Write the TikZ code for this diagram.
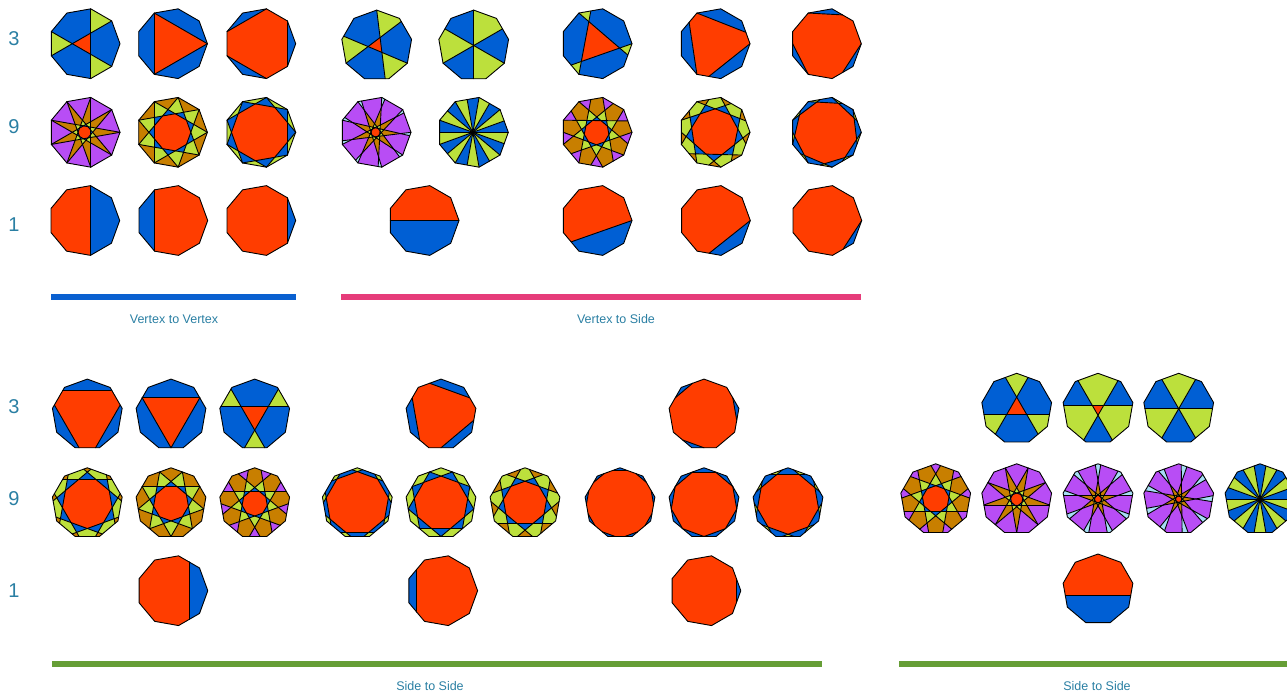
\documentclass[tikz,border=0pt]{standalone}
\usepackage{fontspec}
\setmainfont{Liberation Sans}
\definecolor{ngc0}{HTML}{FF3D00}
\definecolor{ngc1}{HTML}{005FD4}
\definecolor{ngc2}{HTML}{BCE03C}
\definecolor{ngc3}{HTML}{C87F00}
\definecolor{ngc4}{HTML}{B84DF5}
\definecolor{ngc5}{HTML}{A6DDF6}
\definecolor{ngd1}{HTML}{005FD4}
\definecolor{ngd2}{HTML}{BCE03C}
\definecolor{ngd3}{HTML}{FF3D00}
\definecolor{barblue}{HTML}{0A60D0}
\definecolor{barpink}{HTML}{E63C7A}
\definecolor{bargreen}{HTML}{669E36}
\definecolor{labtxt}{HTML}{2A7FA3}
\tikzset{
  ngline/.style={draw=black,line width=0.9pt,line join=round,line cap=round},
  numlab/.style={text=labtxt,font=\fontsize{20}{22}\selectfont,inner sep=0pt},
  grouplab/.style={text=labtxt,font=\fontsize{12.5}{14}\selectfont,inner sep=0pt}
}
\def\ngR{35.4}
\def\ngEps{0.0005}
\def\ngPrefix{ngc}
% boundary point at parameter t (in sides from base vertex)
\def\ngBP#1{%
  \edef\ngKK{\fpeval{floor(#1)}}%
  \edef\ngFF{\fpeval{(#1)-floor(#1)}}%
  \edef\ngBX{\fpeval{\ngR*((1-\ngFF)*cosd(\ngBase+40*\ngKK)+\ngFF*cosd(\ngBase+40*(\ngKK+1)))}}%
  \edef\ngBY{\fpeval{\ngR*((1-\ngFF)*sind(\ngBase+40*\ngKK)+\ngFF*sind(\ngBase+40*(\ngKK+1)))}}%
}
% prepare chord i
\def\ngPrep#1{%
  \ifnum#1<\ngN\relax
    \ngBP{\ngTa+\ngStep*#1}%
    \let\ngXa\ngBX \let\ngYa\ngBY
    \ngBP{\ngTb+\ngStep*#1}%
    \let\ngXb\ngBX \let\ngYb\ngBY
    \edef\ngLen{\fpeval{sqrt((\ngXb-\ngXa)^2+(\ngYb-\ngYa)^2)}}%
    \expandafter\edef\csname ngA#1\endcsname{\fpeval{-(\ngYb-\ngYa)/\ngLen}}%
    \expandafter\edef\csname ngB#1\endcsname{\fpeval{(\ngXb-\ngXa)/\ngLen}}%
    \expandafter\edef\csname ngC#1\endcsname{\fpeval{((\ngYb-\ngYa)*\ngXa-(\ngXb-\ngXa)*\ngYa)/\ngLen}}%
    \expandafter\edef\csname ngLine#1\endcsname{(\fpeval{round(\ngXa,3)},\fpeval{round(\ngYa,3)}) -- (\fpeval{round(\ngXb,3)},\fpeval{round(\ngYb,3)})}%
    \expandafter\ngPrep\expandafter{\the\numexpr#1+1\expandafter}%
  \fi
}
% split polygon #2 by chord #1 into \ngLp and \ngRp
\def\ngSplit#1#2{%
  \edef\ngLA{\csname ngA#1\endcsname}%
  \edef\ngLB{\csname ngB#1\endcsname}%
  \edef\ngLC{\csname ngC#1\endcsname}%
  \def\ngLp{}\def\ngRp{}\def\ngHasL{0}\def\ngHasR{0}%
  \def\ngP##1##2{\def\ngPx{##1}\def\ngPy{##2}}%
  #2%
  \edef\ngPs{\fpeval{\ngLA*\ngPx+\ngLB*\ngPy+\ngLC}}%
  \edef\ngPg{\fpeval{(\ngPs>\ngEps)-(\ngPs<-\ngEps)}}%
  \def\ngP##1##2{%
    \edef\ngCs{\fpeval{\ngLA*##1+\ngLB*##2+\ngLC}}%
    \edef\ngCg{\fpeval{(\ngCs>\ngEps)-(\ngCs<-\ngEps)}}%
    \ifnum\numexpr\ngPg*\ngCg\relax<0
      \edef\ngIx{\fpeval{\ngPx+(##1-\ngPx)*\ngPs/(\ngPs-\ngCs)}}%
      \edef\ngIy{\fpeval{\ngPy+(##2-\ngPy)*\ngPs/(\ngPs-\ngCs)}}%
      \edef\ngLp{\unexpanded\expandafter{\ngLp}\noexpand\ngP{\ngIx}{\ngIy}}%
      \edef\ngRp{\unexpanded\expandafter{\ngRp}\noexpand\ngP{\ngIx}{\ngIy}}%
    \fi
    \ifnum\ngCg>-1
      \edef\ngLp{\unexpanded\expandafter{\ngLp}\noexpand\ngP{##1}{##2}}%
    \fi
    \ifnum\ngCg<1
      \edef\ngRp{\unexpanded\expandafter{\ngRp}\noexpand\ngP{##1}{##2}}%
    \fi
    \ifnum\ngCg=1 \def\ngHasL{1}\fi
    \ifnum\ngCg=-1 \def\ngHasR{1}\fi
    \def\ngPx{##1}\def\ngPy{##2}\let\ngPs\ngCs\let\ngPg\ngCg
  }%
  #2%
}
% fill a finished region (a vanishing region at a point of concurrency has no colour)
\def\ngEmit#1#2{%
  \ifnum\numexpr#1-\ngOff\relax<0
  \else
    \begingroup
    \def\ngPth{}%
    \def\ngP##1##2{\edef\ngPth{\ngPth(\fpeval{round(##1,3)},\fpeval{round(##2,3)}) -- }}%
    #2%
    \edef\ngCol{\ngPrefix\the\numexpr#1-\ngOff\relax}%
    \edef\ngTmp{\noexpand\fill[fill=\ngCol] \ngPth cycle;}%
    \ngTmp
    \endgroup
  \fi
}
% recursion over the chords: index, number of chords excluding the region, region
\def\ngRec#1#2#3{%
  \ifnum#1=\ngN\relax
    \ngEmit{#2}{#3}%
  \else
    \begingroup
    \ngSplit{#1}{#3}%
    \edef\ngNx{\the\numexpr#1+1\relax}%
    \edef\ngNe{\the\numexpr#2+1\relax}%
    \ifnum\ngHasL=1
      \edef\ngTmpA{\noexpand\ngRec{\ngNx}{#2}{\unexpanded\expandafter{\ngLp}}}%
    \else
      \def\ngTmpA{}%
    \fi
    \ifnum\ngHasR=1
      \edef\ngTmpB{\noexpand\ngRec{\ngNx}{\ngNe}{\unexpanded\expandafter{\ngRp}}}%
    \else
      \def\ngTmpB{}%
    \fi
    \ngTmpA
    \ngTmpB
    \endgroup
  \fi
}
\def\ngVtx#1{%
  \edef\ngPoly{\unexpanded\expandafter{\ngPoly}\noexpand\ngP{\fpeval{\ngR*cosd(\ngBase+40*#1)}}{\fpeval{\ngR*sind(\ngBase+40*#1)}}}%
  \edef\ngOut{\ngOut(\fpeval{round(\ngR*cosd(\ngBase+40*#1),3)},\fpeval{round(\ngR*sind(\ngBase+40*#1),3)}) -- }%
}
\def\ngDrawChords#1{%
  \ifnum#1<\ngN\relax
    \edef\ngTmp{\noexpand\draw[ngline] \csname ngLine#1\endcsname;}%
    \ngTmp
    \expandafter\ngDrawChords\expandafter{\the\numexpr#1+1\expandafter}%
  \fi
}
% \NGon{cx}{cy}{base angle}{chords}{t1}{t2}{colour offset}
\newcommand\NGon[7]{%
  \begin{scope}[shift={(#1,-#2)}]
  \begingroup
  \def\ngBase{#3}\def\ngN{#4}\def\ngTa{#5}\def\ngTb{#6}\def\ngOff{#7}%
  \edef\ngStep{\the\numexpr9/#4\relax}%
  \def\ngPoly{}\def\ngOut{}%
  \ngVtx0\ngVtx1\ngVtx2\ngVtx3\ngVtx4\ngVtx5\ngVtx6\ngVtx7\ngVtx8
  \ngPrep{0}%
  \edef\ngTmp{\noexpand\ngRec{0}{0}{\unexpanded\expandafter{\ngPoly}}}%
  \ngTmp
  \ngDrawChords{0}%
  \edef\ngTmp{\noexpand\draw[ngline] \ngOut cycle;}%
  \ngTmp
  \endgroup
  \end{scope}
}
\begin{document}
\begin{tikzpicture}[x=1pt,y=1pt]
\useasboundingbox (0,0) rectangle (1287,-694);
\clip (0,0) rectangle (1287,-694);
% --- Vertex to Vertex
\NGon{84.6}{43.7}{0}{3}{-2}{2}{0}
\NGon{172}{43.7}{0}{3}{3}{6}{0}
\NGon{260.3}{43.7}{0}{3}{-1}{1}{0}
\NGon{84.6}{132.3}{0}{9}{-2}{2}{0}
\NGon{172}{132.3}{0}{9}{3}{6}{0}
\NGon{260.3}{132.3}{0}{9}{-1}{1}{0}
\NGon{84.3}{220.5}{0}{1}{-2}{2}{0}
\NGon{172.3}{220.5}{0}{1}{3}{6}{0}
\NGon{260.3}{220.5}{0}{1}{-1}{1}{0}
% --- Vertex to Side
\NGon{376.7}{45.5}{90}{3}{4.85}{9}{0}
\NGon{473.7}{45.5}{90}{3}{4.5}{9}{0}
\NGon{596.6}{43.7}{0}{3}{5.5}{9}{0}
\NGon{714.6}{43.7}{0}{3}{6.5}{9}{0}
\NGon{825.9}{43.7}{0}{3}{7.5}{9}{0}
\NGon{375.6}{132.3}{0}{9}{4.85}{9}{0}
\NGon{472.9}{132.3}{0}{9}{4.5}{9}{3}
\NGon{596.6}{132.3}{0}{9}{5.5}{9}{0}
\NGon{714.6}{132.3}{0}{9}{6.5}{9}{0}
\NGon{825.9}{132.3}{0}{9}{7.5}{9}{0}
\NGon{423.6}{220.5}{0}{1}{4.5}{9}{0}
\NGon{596.6}{220.5}{0}{1}{5.5}{9}{0}
\NGon{714.9}{220.5}{0}{1}{6.5}{9}{0}
\NGon{826.3}{220.5}{0}{1}{7.5}{9}{0}
% --- Side to Side, first part
\NGon{87.3}{414.5}{90}{3}{-1.16}{1.16}{0}
\NGon{171}{414.5}{90}{3}{-1.5}{1.5}{0}
\NGon{254.7}{414.5}{90}{3}{-1.92}{1.92}{0}
\NGon{441}{414.5}{90}{3}{-1.5}{0.5}{0}
\NGon{704}{414.5}{90}{3}{0.5}{1.5}{0}
\NGon{87.3}{503.2}{90}{9}{-1.16}{1.16}{0}
\NGon{171}{503.2}{90}{9}{-1.5}{1.5}{0}
\NGon{254.7}{503.2}{90}{9}{-1.72}{1.72}{0}
\NGon{357.3}{503.2}{90}{9}{3.77}{5.23}{0}
\NGon{441}{503.2}{90}{9}{3.5}{5.5}{0}
\NGon{525}{503.2}{90}{9}{3.19}{5.81}{0}
\NGon{620}{503.2}{90}{9}{-0.3}{0.3}{0}
\NGon{704}{503.2}{90}{9}{-0.5}{0.5}{0}
\NGon{788}{503.2}{90}{9}{-0.75}{0.75}{0}
\NGon{172.4}{590.7}{0}{1}{-1.5}{1.5}{0}
\NGon{442.2}{590.7}{0}{1}{3.5}{5.5}{0}
\NGon{705.4}{590.7}{0}{1}{-0.5}{0.5}{0}
% --- Side to Side, second part
\NGon{1016.7}{408.7}{90}{3}{2.5}{6.5}{0}
{\def\ngPrefix{ngd}\NGon{1098}{408.7}{90}{3}{2.12}{6.88}{0}}
\NGon{1178.7}{408.7}{90}{3}{2.25777}{6.74223}{0}
\NGon{935.7}{499.2}{90}{9}{2.79}{6.21}{0}
\NGon{1016.7}{499.2}{90}{9}{2.5}{6.5}{0}
\NGon{1098}{499.2}{90}{9}{-2.12}{2.12}{0}
\NGon{1178.7}{499.2}{90}{9}{0.64}{4.89}{0}
\NGon{1260}{499.2}{90}{9}{2.25777}{6.74223}{3}
\NGon{1098}{589.4}{90}{1}{2.5}{6.5}{0}
% --- row numbers
\node[numlab] (a3) at (14,-39) {3};
\node[numlab] (a9) at (14,-127) {9};
\node[numlab] (a1) at (14,-225) {1};
\node[numlab] (b3) at (14,-407) {3};
\node[numlab] (b9) at (14,-499) {9};
\node[numlab] (b1) at (14,-591) {1};
% --- bars and captions
\fill[barblue] (51,-294) rectangle (296,-300);
\fill[barpink] (341,-294) rectangle (861,-300);
\fill[bargreen] (52,-661) rectangle (822,-667);
\fill[bargreen] (899,-661) rectangle (1287,-667);
\node[grouplab] (c1) at (174,-319) {Vertex to Vertex};
\node[grouplab] (c2) at (616,-319) {Vertex to Side};
\node[grouplab] (c3) at (430,-686) {Side to Side};
\node[grouplab] (c4) at (1097,-686) {Side to Side};
\end{tikzpicture}
\end{document}
